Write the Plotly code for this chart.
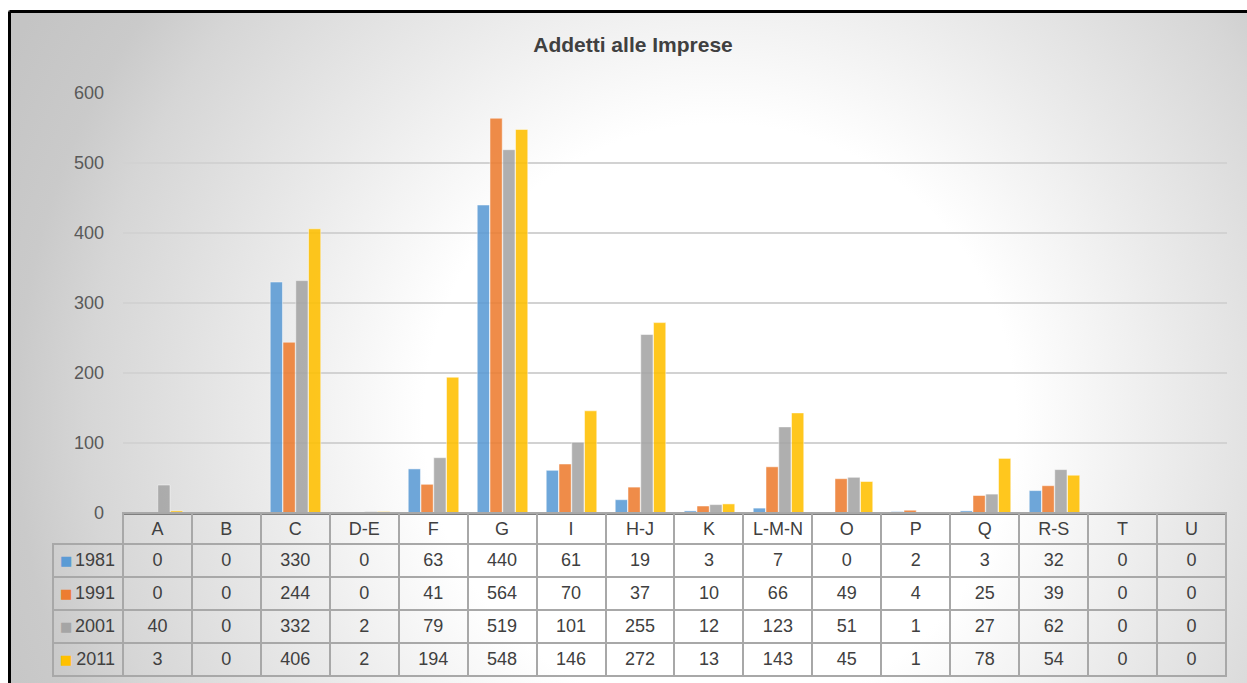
import base64
import plotly.graph_objects as go

# dati
categorie = ['A', 'B', 'C', 'D-E', 'F', 'G', 'I', 'H-J', 'K', 'L-M-N', 'O', 'P', 'Q', 'R-S', 'T', 'U']
anni = ['1981', '1991', '2001', '2011']
addetti_1981 = [0, 0, 330, 0, 63, 440, 61, 19, 3, 7, 0, 2, 3, 32, 0, 0]
addetti_1991 = [0, 0, 244, 0, 41, 564, 70, 37, 10, 66, 49, 4, 25, 39, 0, 0]
addetti_2001 = [40, 0, 332, 2, 79, 519, 101, 255, 12, 123, 51, 1, 27, 62, 0, 0]
addetti_2011 = [3, 0, 406, 2, 194, 548, 146, 272, 13, 143, 45, 1, 78, 54, 0, 0]
y_ticks = [0, 100, 200, 300, 400, 500, 600]

colori = ['#5B9BD5', '#ED7D31', '#A5A5A5', '#FFC000']
serie = [addetti_1981, addetti_1991, addetti_2001, addetti_2011]

W, H = 1247, 683
FONT = 'Liberation Sans, Arial, sans-serif'
TXT = '#404040'

# sfondo radiale stile Excel
svg = f'''<svg xmlns="http://www.w3.org/2000/svg" width="{W}" height="{H}" viewBox="0 0 {W} {H}" preserveAspectRatio="none">
<defs><radialGradient id="g" gradientUnits="userSpaceOnUse" cx="720" cy="420" r="800">
<stop offset="0" stop-color="#ffffff"/><stop offset="0.37" stop-color="#ffffff"/>
<stop offset="0.58" stop-color="#eaeaea"/><stop offset="0.79" stop-color="#d6d6d6"/>
<stop offset="0.88" stop-color="#cacaca"/><stop offset="1" stop-color="#c4c4c4"/>
</radialGradient></defs>
<rect x="0" y="0" width="{W}" height="{H}" fill="url(#g)"/></svg>'''
sfondo = 'data:image/svg+xml;base64,' + base64.b64encode(svg.encode()).decode()

x_left = 123 / W
x_right = 1227 / W
x_tab = 53 / W
y_zero = (H - 513) / H
y_top = (H - 93) / H
h_head, h_row = 31, 33

fig = go.Figure()

for anno, valori, col in zip(anni, serie, colori):
    fig.add_trace(go.Bar(
        x=categorie, y=valori, name=anno,
        marker=dict(color=col, line=dict(color='rgba(255,255,255,0.5)', width=1)),
        opacity=0.88,
    ))

# tabella dati sotto il grafico
intestazioni = [''] + categorie
colonne = [anni] + [[str(s[i]) for s in serie] for i in range(len(categorie))]

fig.add_trace(go.Table(
    domain=dict(x=[x_tab, x_right], y=[0, y_zero]),
    columnwidth=[70] + [69] * len(categorie),
    header=dict(
        values=intestazioni,
        height=h_head,
        fill=dict(color='rgba(0,0,0,0)'),
        line=dict(color=['rgba(0,0,0,0)'] + ['#a8a8a8'] * len(categorie), width=2),
        font=dict(family=FONT, size=18, color=TXT),
        align='center',
    ),
    cells=dict(
        values=colonne,
        height=h_row,
        fill=dict(color='rgba(0,0,0,0)'),
        line=dict(color='#a8a8a8', width=2),
        font=dict(family=FONT, size=18, color=TXT),
        align=['right'] + ['center'] * len(categorie),
    ),
))

# quadratini della legenda nella tabella
legenda = []
for i, col in enumerate(colori):
    yc = 513 + h_head + h_row * i + h_row / 2
    legenda.append(dict(text='■', x=65.5 / W, y=(H - yc) / H, xref='paper', yref='paper',
                        showarrow=False, xanchor='center', yanchor='middle',
                        font=dict(family='DejaVu Sans', size=13, color=col)))

fig.update_layout(
    width=W, height=H,
    margin=dict(l=0, r=0, t=0, b=0, pad=0, autoexpand=False),
    paper_bgcolor='white',
    plot_bgcolor='rgba(0,0,0,0)',
    showlegend=False,
    barmode='group',
    bargap=0.26,
    bargroupgap=0.04,
    title=dict(text='<b>Addetti alle Imprese</b>', x=633 / W, xref='paper', xanchor='center',
               y=(H - 45) / H, yanchor='middle',
               font=dict(family=FONT, size=21, color=TXT)),
    font=dict(family=FONT, color=TXT),
    xaxis=dict(domain=[x_left, x_right], showticklabels=False, showgrid=False, automargin=False,
               showline=True, linecolor='#7f7f7f', linewidth=2, ticks='', zeroline=False),
    yaxis=dict(domain=[y_zero, y_top], range=[0, 600], tickvals=y_ticks, automargin=False,
               showgrid=True, gridcolor='#d2d2d2', gridwidth=1.5, zeroline=False,
               showline=False, ticks='', ticklabelstandoff=18,
               tickfont=dict(family=FONT, size=18, color='#595959')),
    annotations=legenda,
    images=[dict(source=sfondo, xref='paper', yref='paper', x=0, y=1, sizex=1, sizey=1,
                 sizing='stretch', xanchor='left', yanchor='top', layer='below')],
    shapes=[
        dict(type='rect', xref='paper', yref='paper', x0=0, x1=1, y0=(H - 10) / H, y1=1,
             fillcolor='white', line=dict(width=0), layer='below'),
        dict(type='rect', xref='paper', yref='paper', x0=0, x1=8 / W, y0=0, y1=1,
             fillcolor='white', line=dict(width=0), layer='below'),
        dict(type='line', xref='paper', yref='paper', x0=9.5 / W, x1=1, y0=(H - 11.5) / H, y1=(H - 11.5) / H,
             line=dict(color='black', width=3)),
        dict(type='line', xref='paper', yref='paper', x0=9.5 / W, x1=9.5 / W, y0=0, y1=(H - 11.5) / H,
             line=dict(color='black', width=3)),
    ],
)

fig.write_html('out.html', config={'displayModeBar': False},
               post_script="document.body.style.margin='0';document.body.style.overflow='hidden';")
